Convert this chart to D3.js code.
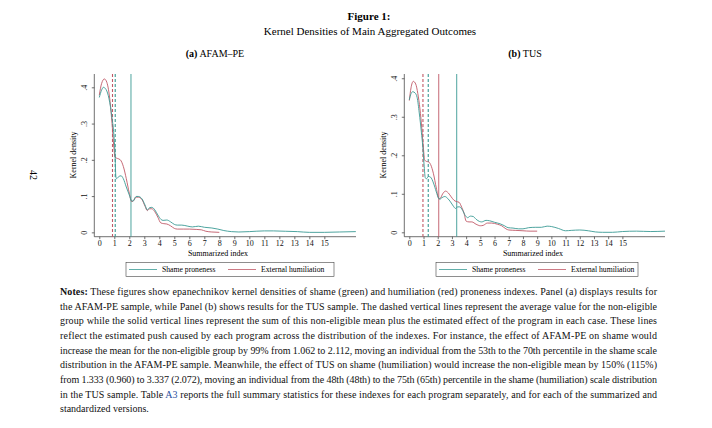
<!DOCTYPE html>
<html><head><meta charset="utf-8">
<script src="https://cdn.jsdelivr.net/npm/d3@7"></script>
<style>body{margin:0;background:#fff}svg{display:block}</style>
</head><body>
<script>
// ---- data ----
const xTicks = [0,1,2,3,4,5,6,7,8,9,10,11,12,13,14,15];
const yTicks = [0, 0.1, 0.2, 0.3, 0.4];
const yTickLabels = ["0", ".1", ".2", ".3", ".4"];
const seriesNames = ["Shame proneness", "External humiliation"];

// Panel (a) AFAM-PE
const afamShameX = [0,0.15,0.27,0.45,0.65,0.85,0.97,1.05,1.1,1.15,1.3,1.45,1.6,1.8,2.0,2.15,2.25,2.45,2.6,2.85,3.05,3.2,3.35,3.5,3.7,3.9,4.1,4.25,4.5,4.75,5.0,5.2,5.5,5.9,6.2,6.6,7.0,7.5,7.9,8.3,8.8,9.3,10,11,11.6,12.4,13.2,14,15,16,17.1];
const afamShameY = [0.372,0.392,0.400,0.394,0.368,0.315,0.27,0.215,0.155,0.148,0.154,0.156,0.148,0.125,0.103,0.087,0.086,0.099,0.099,0.092,0.075,0.062,0.068,0.069,0.062,0.048,0.036,0.033,0.034,0.029,0.022,0.020,0.020,0.017,0.015,0.017,0.014,0.012,0.009,0.005,0.002,0.001,0.002,0.004,0.004,0.003,0.002,0.0,0.0,0.001,0.002];
const afamHumilX = [0,0.15,0.34,0.5,0.72,0.85,0.97,1.05,1.2,1.4,1.6,1.8,2.0,2.15,2.25,2.45,2.6,2.85,3.05,3.2,3.35,3.5,3.7,3.9,4.1,4.3,4.5,4.75,5.0,5.2,5.6,6.0,6.5,6.8,7.1,7.5,8.0];
const afamHumilY = [0.378,0.41,0.423,0.414,0.36,0.30,0.235,0.207,0.204,0.200,0.182,0.148,0.108,0.085,0.086,0.097,0.097,0.090,0.072,0.060,0.065,0.065,0.057,0.042,0.026,0.024,0.023,0.018,0.011,0.009,0.009,0.009,0.008,0.007,0.003,0.001,0.0];
const afamMeans = [0.88, 1.062];   // dashed: humiliation, shame
const afamPush  = [2.112];         // solid: shame

// Panel (b) TUS
const tusShameX = [0,0.12,0.24,0.4,0.55,0.7,0.85,0.95,1.05,1.12,1.2,1.35,1.5,1.7,1.9,2.05,2.15,2.3,2.5,2.7,2.9,3.1,3.25,3.4,3.55,3.75,3.95,4.1,4.3,4.5,4.7,4.95,5.1,5.4,5.65,6.0,6.4,6.7,6.95,7.3,7.7,8.0,8.4,8.9,9.3,9.7,10.0,10.5,11.0,11.4,12.0,12.6,13.1,13.6,14.3,15,16,17,18];
const tusShameY = [0.344,0.360,0.365,0.362,0.350,0.31,0.26,0.222,0.17,0.142,0.139,0.145,0.143,0.128,0.105,0.089,0.086,0.090,0.093,0.088,0.079,0.068,0.062,0.066,0.066,0.057,0.043,0.038,0.042,0.041,0.034,0.028,0.027,0.031,0.030,0.026,0.022,0.017,0.012,0.011,0.009,0.009,0.012,0.013,0.013,0.016,0.015,0.010,0.004,0.005,0.006,0.004,0.001,0.0,0.0,0.002,0.003,0.002,0.003];
const tusHumilX = [0,0.12,0.28,0.45,0.6,0.75,0.88,1.0,1.08,1.2,1.35,1.5,1.7,1.9,2.05,2.15,2.35,2.55,2.75,2.95,3.15,3.3,3.5,3.7,3.85,4.0,4.2,4.4,4.7,5.0,5.2,5.5,5.8,6.2,6.5,6.8,7.0,7.5,8.0,8.5,9.0];
const tusHumilY = [0.342,0.375,0.392,0.385,0.36,0.32,0.27,0.215,0.188,0.184,0.183,0.176,0.152,0.115,0.090,0.087,0.100,0.107,0.102,0.092,0.083,0.080,0.078,0.064,0.050,0.029,0.027,0.027,0.021,0.017,0.018,0.024,0.024,0.021,0.017,0.009,0.006,0.005,0.004,0.003,0.003];
const tusMeans = [0.960, 1.333];   // dashed: humiliation, shame
const tusPush  = [2.072, 3.337];   // solid: humiliation, shame

const notesLines = [
 ["Notes:", " These figures show epanechnikov kernel densities of shame (green) and humiliation (red) proneness indexes. Panel (a) displays results for"],
 ["", "the AFAM-PE sample, while Panel (b) shows results for the TUS sample. The dashed vertical lines represent the average value for the non-eligible"],
 ["", "group while the solid vertical lines represent the sum of this non-eligible mean plus the estimated effect of the program in each case. These lines"],
 ["", "reflect the estimated push caused by each program across the distribution of the indexes. For instance, the effect of AFAM-PE on shame would"],
 ["", "increase the mean for the non-eligible group by 99% from 1.062 to 2.112, moving an individual from the 53th to the 70th percentile in the shame scale"],
 ["", "distribution in the AFAM-PE sample. Meanwhile, the effect of TUS on shame (humiliation) would increase the non-eligible mean by 150% (115%)"],
 ["", "from 1.333 (0.960) to 3.337 (2.072), moving an individual from the 48th (48th) to the 75th (65th) percentile in the shame (humiliation) scale distribution"],
 ["", "in the TUS sample. Table |A3| reports the full summary statistics for these indexes for each program separately, and for each of the summarized and"],
 ["", "standardized versions."]
];

// ---- drawing ----
const W = 712, H = 428;
const GREEN = "#3a9a94", RED = "#c05866", AX = "#333";
const FONT = "'Liberation Serif', 'Times New Roman', serif";
const svg = d3.select("body").append("svg").attr("width", W).attr("height", H)
  .style("font-family", FONT);

svg.append("text").attr("x", 369).attr("y", 20).attr("text-anchor","middle")
  .attr("font-size", 11).attr("font-weight","bold").text("Figure 1:");
svg.append("text").attr("x", 370).attr("y", 35).attr("text-anchor","middle")
  .attr("font-size", 11).text("Kernel Densities of Main Aggregated Outcomes");

svg.append("text").attr("transform","translate(30,175) rotate(90)")
  .attr("text-anchor","middle").attr("font-size",10).text("42");

function panel(cfg){
  const g = svg.append("g");
  const x = d3.scaleLinear().domain(cfg.xDom).range(cfg.xRange);
  const y = d3.scaleLinear().domain(cfg.yDom).range([236.7, 74]);
  const [x0, x1] = cfg.xRange;

  // title
  const t = g.append("text").attr("x", cfg.titleX).attr("y", 57).attr("text-anchor","middle").attr("font-size", 10);
  t.append("tspan").attr("font-weight","bold").text(cfg.titleA);
  t.append("tspan").text(" " + cfg.titleB);

  // axes
  const xa = g.append("g").attr("transform", `translate(0,236.7)`)
    .call(d3.axisBottom(x).tickValues(xTicks).tickSize(2.5).tickPadding(1.5).tickFormat(d3.format("d")));
  xa.select(".domain").attr("d", `M${x0},0H${x1}`).attr("stroke", AX).attr("stroke-width",0.7);
  xa.selectAll(".tick line").attr("stroke", AX).attr("stroke-width",0.7);
  xa.selectAll("text").attr("font-size", 8).attr("font-family", FONT).attr("fill","#111");

  const ya = g.append("g").attr("transform", `translate(${x0},0)`)
    .call(d3.axisLeft(y).tickValues(yTicks).tickSize(2.5).tickFormat((d,i)=>yTickLabels[i]));
  ya.select(".domain").attr("d", `M0,74V236.7`).attr("stroke", AX).attr("stroke-width",0.7);
  ya.selectAll(".tick line").attr("stroke", AX).attr("stroke-width",0.7);
  ya.selectAll("text").attr("font-size", 8).attr("font-family", FONT).attr("fill","#111")
    .attr("text-anchor","middle").attr("x", null).attr("dy", null)
    .attr("transform", "translate(-7.5,0) rotate(-90)");

  g.append("text").attr("transform", `translate(${x0-18},155) rotate(-90)`)
    .attr("text-anchor","middle").attr("font-size",8).text("Kernel density");
  g.append("text").attr("x", cfg.xLabelX).attr("y", 256).attr("text-anchor","middle")
    .attr("font-size",8).text("Summarized index");

  // vertical lines
  const vl = (v, col, dash) => g.append("line").attr("x1", x(v)).attr("x2", x(v))
    .attr("y1", 74).attr("y2", 236.7).attr("stroke", col).attr("stroke-width", dash ? 1.1 : 0.9)
    .attr("stroke-dasharray", dash ? "3,2" : null);
  cfg.means.forEach((v,i)=> vl(v, cfg.meanCols[i], true));
  cfg.push.forEach((v,i)=> vl(v, cfg.pushCols[i], false));

  // curves
  const line = d3.line().x(d=>x(d[0])).y(d=>y(d[1])).curve(d3.curveMonotoneX);
  const shame = cfg.shX.map((v,i)=>[v, cfg.shY[i]]);
  const humil = cfg.huX.map((v,i)=>[v, cfg.huY[i]]);
  g.append("path").attr("d", line(humil)).attr("fill","none").attr("stroke", RED).attr("stroke-width",0.9);
  g.append("path").attr("d", line(shame)).attr("fill","none").attr("stroke", GREEN).attr("stroke-width",0.9);

  // legend
  const L = cfg.legend;
  g.append("rect").attr("x", L.x).attr("y", 262.5).attr("width", L.w).attr("height", 14)
    .attr("fill","#fff").attr("stroke","#444").attr("stroke-width",0.6);
  [[GREEN, L.l1, seriesNames[0]], [RED, L.l2, seriesNames[1]]].forEach(([c, lx, txt])=>{
    g.append("line").attr("x1", lx).attr("x2", lx+28).attr("y1", 269.5).attr("y2", 269.5)
      .attr("stroke", c).attr("stroke-width",0.8);
    g.append("text").attr("x", lx+33).attr("y", 272.3).attr("font-size",7.7).text(txt);
  });
}

panel({
  titleA:"(a)", titleB:"AFAM\u2013PE", titleX: 215,
  xDom:[-0.333, 17.11], xRange:[94.3, 356], yDom:[-0.012, 0.4367], xLabelX: 218,
  shX: afamShameX, shY: afamShameY, huX: afamHumilX, huY: afamHumilY,
  means: afamMeans, meanCols:[RED, GREEN], push: afamPush, pushCols:[GREEN],
  legend:{x:126, w:208, l1:129, l2:228}
});
panel({
  titleA:"(b)", titleB:"TUS", titleX: 525,
  xDom:[-0.353, 18.0], xRange:[404.3, 665], yDom:[-0.0114, 0.411], xLabelX: 533,
  shX: tusShameX, shY: tusShameY, huX: tusHumilX, huY: tusHumilY,
  means: tusMeans, meanCols:[RED, GREEN], push: tusPush, pushCols:[RED, GREEN],
  legend:{x:436, w:202, l1:439, l2:538}
});

// notes
const nx = 60, nRight = 657, ny0 = 295, nStep = 14.65;
notesLines.forEach((ln, i)=>{
  const t = svg.append("text").attr("x", nx).attr("y", ny0 + i*nStep).attr("font-size", 10).attr("fill","#111");
  if (ln[0]) t.append("tspan").attr("font-weight","bold").text(ln[0]);
  const parts = ln[1].split("|");
  parts.forEach((p, k)=>{
    const s = t.append("tspan").text(p);
    if (k % 2 === 1) s.attr("fill", "#2a4fa0");
  });
  if (i < notesLines.length - 1) {
    t.attr("textLength", nRight - nx).attr("lengthAdjust", "spacing");
  }
});
</script>
</body></html>
